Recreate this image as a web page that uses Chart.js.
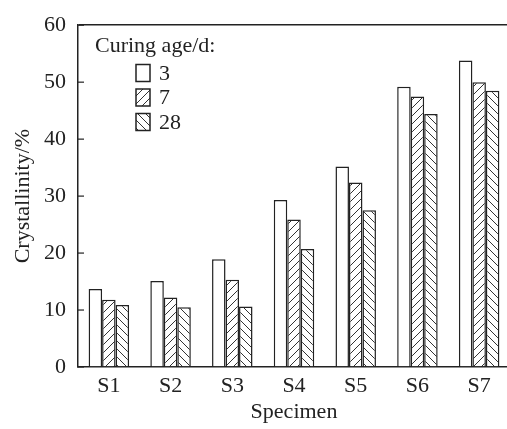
<!DOCTYPE html>
<html>
<head>
<meta charset="utf-8">
<script src="https://cdn.jsdelivr.net/npm/chart.js@4/dist/chart.umd.min.js"></script>
<style>
  html, body { margin: 0; padding: 0; background: #fff; overflow: hidden; }
  #wrap { width: 510px; height: 429px; position: relative; }
</style>
</head>
<body>
<div id="wrap"><canvas id="chart"></canvas></div>
<script>
// data
const specimens = ['S1', 'S2', 'S3', 'S4', 'S5', 'S6', 'S7'];
const ages = ['3', '7', '28'];
const age3 = [13.7, 15.1, 18.9, 29.3, 35.2, 49.2, 53.8];
const age7 = [11.8, 12.2, 15.3, 25.9, 32.4, 47.5, 50.0];
const age28 = [10.9, 10.5, 10.6, 20.7, 27.5, 44.4, 48.5];
const yTicks = [0, 10, 20, 30, 40, 50, 60];

const ink = '#222';
const serif = "'Liberation Serif', 'DejaVu Serif', serif";

// diagonal hatch fills
function hatch(dir) {
    const c = document.createElement('canvas');
    c.width = 8; c.height = 8;
    const g = c.getContext('2d');
    g.fillStyle = '#fff';
    g.fillRect(0, 0, 8, 8);
    g.strokeStyle = '#333';
    g.lineWidth = 1;
    g.beginPath();
    if (dir === 'up') {
        g.moveTo(0, 8); g.lineTo(8, 0);
        g.moveTo(-1, 1); g.lineTo(1, -1);
        g.moveTo(7, 9); g.lineTo(9, 7);
    } else {
        g.moveTo(0, 0); g.lineTo(8, 8);
        g.moveTo(-1, 7); g.lineTo(1, 9);
        g.moveTo(7, -1); g.lineTo(9, 1);
    }
    g.stroke();
    return g.createPattern(c, 'repeat');
}

const fills = ['#fff', hatch('up'), hatch('down')];

// inward tick marks on the y axis
const innerTicks = {
    id: 'innerTicks',
    afterDatasetsDraw(chart) {
        const y = chart.scales.y;
        const ctx = chart.ctx;
        ctx.save();
        ctx.strokeStyle = ink;
        ctx.lineWidth = 1.2;
        yTicks.forEach(v => {
            const py = y.getPixelForValue(v);
            ctx.beginPath();
            ctx.moveTo(y.right, py);
            ctx.lineTo(y.right + 6, py);
            ctx.stroke();
        });
        ctx.restore();
    }
};

// legend drawn inside the plot, like the figure
const boxLegend = {
    id: 'boxLegend',
    afterDraw(chart) {
        const ctx = chart.ctx;
        ctx.save();
        ctx.font = '22px ' + serif;
        ctx.fillStyle = ink;
        ctx.textBaseline = 'middle';
        ctx.textAlign = 'left';
        ctx.fillText('Curing age/d:', 95, 46);
        chart.data.datasets.forEach((ds, i) => {
            const cy = 73 + i * 24.5;
            ctx.fillStyle = ds.backgroundColor;
            ctx.fillRect(136, cy - 8.5, 14, 17);
            ctx.strokeStyle = ink;
            ctx.lineWidth = 1.5;
            ctx.strokeRect(136, cy - 8.5, 14, 17);
            ctx.fillStyle = ink;
            ctx.fillText(ds.label, 159, cy + 1);
        });
        ctx.restore();
    }
};

new Chart(document.getElementById('chart'), {
    type: 'bar',
    data: {
        labels: specimens,
        datasets: [age3, age7, age28].map((vals, i) => ({
            label: ages[i],
            data: vals,
            backgroundColor: fills[i],
            borderColor: ink,
            borderWidth: 1.5,
            barPercentage: 1,
            categoryPercentage: 0.656
        }))
    },
    options: {
        responsive: true,
        maintainAspectRatio: false,
        animation: false,
        layout: { padding: { top: 17, left: 0, right: 0, bottom: 0 } },
        plugins: {
            legend: { display: false },
            tooltip: { enabled: false }
        },
        scales: {
            x: {
                offset: true,
                grid: { display: false, drawTicks: false },
                border: { display: true, color: ink, width: 1.5 },
                ticks: { color: ink, font: { family: serif, size: 22 }, padding: 6 },
                title: {
                    display: true, text: 'Specimen', color: ink,
                    font: { family: serif, size: 22 }, padding: { bottom: 4 }
                },
                afterFit(s) { s.height = 62; }
            },
            y: {
                min: 0,
                max: 60,
                afterBuildTicks(s) { s.ticks = yTicks.map(v => ({ value: v })); },
                grid: {
                    drawTicks: false,
                    lineWidth: 1.5,
                    color: ctx => (ctx.tick && ctx.tick.value === 60 ? ink : 'rgba(0,0,0,0)')
                },
                border: { display: true, color: ink, width: 1.5 },
                ticks: { color: ink, font: { family: serif, size: 22 }, padding: 12 },
                title: {
                    display: true, text: 'Crystallinity/%', color: ink,
                    font: { family: serif, size: 22 }, padding: { top: 10 }
                },
                afterFit(s) { s.width = 78; }
            }
        }
    },
    plugins: [innerTicks, boxLegend]
});
</script>
</body>
</html>
